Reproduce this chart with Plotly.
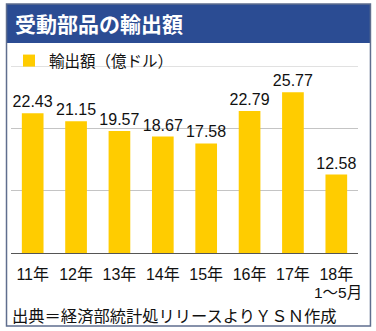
import plotly.graph_objects as go

categories = ["11年", "12年", "13年", "14年", "15年", "16年", "17年", "18年"]
values = [22.43, 21.15, 19.57, 18.67, 17.58, 22.79, 25.77, 12.58]
value_labels = ["22.43", "21.15", "19.57", "18.67", "17.58", "22.79", "25.77", "12.58"]
series_name = "輸出額（億ドル）"
title_text = "受動部品の輸出額"
sub_label = "1～5月"
source_text = "出典＝経済部統計処リリースよりＹＳＮ作成"
y_max = 30

W, H = 376, 331
ML, MR, MT, MB = 10, 18, 66, 78
PW, PH = W - ML - MR, H - MT - MB


def px_x(x):
    return (x - ML) / PW


def px_y(y):
    return 1 - (y - MT) / PH


FONT = "Liberation Sans, Arial, Noto Sans CJK JP, sans-serif"
JFONT = "Noto Sans CJK JP, sans-serif"

fig = go.Figure()
fig.add_trace(go.Bar(
    x=categories, y=values, name=series_name,
    marker=dict(color="#FFCC00", line=dict(width=0)),
    text=value_labels, textposition="outside", cliponaxis=False,
    constraintext="none",
    textfont=dict(size=16, color="#111111", family=FONT),
    showlegend=True,
))

shapes = [
    # title bar
    dict(type="rect", xref="paper", yref="paper",
         x0=px_x(5), x1=px_x(371), y0=px_y(43), y1=px_y(4),
         fillcolor="#2B4C93", line=dict(width=0), layer="below"),
    # frame
    dict(type="rect", xref="paper", yref="paper",
         x0=px_x(5.5), x1=px_x(370.5), y0=px_y(326), y1=px_y(4),
         fillcolor="rgba(0,0,0,0)", line=dict(color="#5F6E8E", width=1.5)),
    # top gridline at axis max
    dict(type="line", xref="paper", yref="y", x0=0, x1=1, y0=y_max, y1=y_max,
         line=dict(color="#C4C4C4", width=1), layer="below"),
]

annotations = [
    dict(text="<b>" + title_text + "</b>", xref="paper", yref="paper",
         x=px_x(12), y=px_y(23.5), xanchor="left", yanchor="middle",
         showarrow=False, font=dict(size=21, color="white", family=JFONT)),
    dict(text=sub_label, xref="paper", yref="paper",
         x=px_x(364), y=px_y(292), xanchor="right", yanchor="middle",
         showarrow=False, font=dict(size=15.5, color="#111111", family=FONT + ", " + JFONT)),
    dict(text=source_text, xref="paper", yref="paper",
         x=px_x(9), y=px_y(315), xanchor="left", yanchor="middle",
         showarrow=False, font=dict(size=16.3, color="#111111", family=JFONT)),
]

fig.update_layout(
    width=W, height=H,
    margin=dict(l=ML, r=MR, t=MT, b=MB, pad=0),
    paper_bgcolor="white", plot_bgcolor="white",
    bargap=0.5,
    shapes=shapes, annotations=annotations,
    showlegend=True,
    legend=dict(x=px_x(9), y=px_y(44), xanchor="left", yanchor="top",
                font=dict(size=15.5, color="#111111", family=JFONT),
                bgcolor="rgba(0,0,0,0)", itemwidth=30),
    xaxis=dict(showline=True, linecolor="#555555", linewidth=1,
               ticks="", tickfont=dict(size=16, color="#111111", family=FONT + ", " + JFONT),
               ticklabelstandoff=7, fixedrange=True),
    yaxis=dict(range=[0, y_max], tickvals=[10, 20], showticklabels=False,
               showgrid=True, gridcolor="#C4C4C4", gridwidth=1,
               zeroline=False, fixedrange=True),
)

fig.write_html("out.html")
